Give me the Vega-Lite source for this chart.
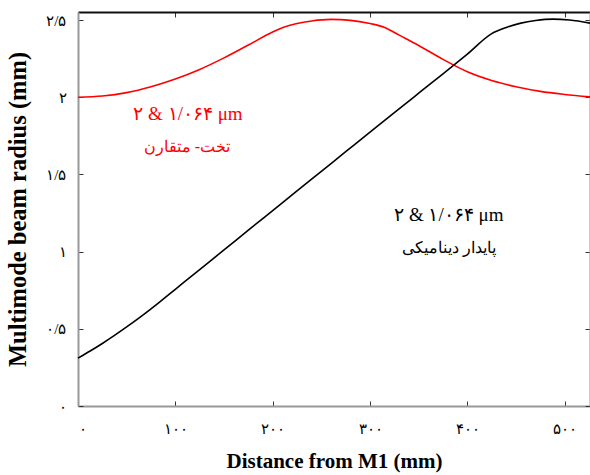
{
  "$schema": "https://vega.github.io/schema/vega-lite/v6.json",
  "width": 512,
  "height": 394,
  "autosize": {"type": "none"},
  "padding": {"left": 78, "top": 12, "right": 0, "bottom": 69},
  "background": "white",
  "config": {
    "font": "Liberation Serif",
    "view": {"stroke": null},
    "axis": {"grid": false, "labelFont": "Liberation Serif", "titleFont": "Liberation Serif"}
  },
  "datasets": {
    "beam": [
      {"distance": 0, "radius": 2.0, "cavity": "flat-symmetric"},
      {"distance": 25, "radius": 2.008, "cavity": "flat-symmetric"},
      {"distance": 50, "radius": 2.03, "cavity": "flat-symmetric"},
      {"distance": 75, "radius": 2.068, "cavity": "flat-symmetric"},
      {"distance": 100, "radius": 2.118, "cavity": "flat-symmetric"},
      {"distance": 125, "radius": 2.18, "cavity": "flat-symmetric"},
      {"distance": 150, "radius": 2.255, "cavity": "flat-symmetric"},
      {"distance": 175, "radius": 2.338, "cavity": "flat-symmetric"},
      {"distance": 200, "radius": 2.422, "cavity": "flat-symmetric"},
      {"distance": 212, "radius": 2.455, "cavity": "flat-symmetric"},
      {"distance": 225, "radius": 2.478, "cavity": "flat-symmetric"},
      {"distance": 240, "radius": 2.494, "cavity": "flat-symmetric"},
      {"distance": 260, "radius": 2.504, "cavity": "flat-symmetric"},
      {"distance": 280, "radius": 2.498, "cavity": "flat-symmetric"},
      {"distance": 300, "radius": 2.477, "cavity": "flat-symmetric"},
      {"distance": 315, "radius": 2.452, "cavity": "flat-symmetric"},
      {"distance": 330, "radius": 2.402, "cavity": "flat-symmetric"},
      {"distance": 350, "radius": 2.335, "cavity": "flat-symmetric"},
      {"distance": 375, "radius": 2.245, "cavity": "flat-symmetric"},
      {"distance": 400, "radius": 2.165, "cavity": "flat-symmetric"},
      {"distance": 425, "radius": 2.108, "cavity": "flat-symmetric"},
      {"distance": 450, "radius": 2.068, "cavity": "flat-symmetric"},
      {"distance": 475, "radius": 2.038, "cavity": "flat-symmetric"},
      {"distance": 500, "radius": 2.018, "cavity": "flat-symmetric"},
      {"distance": 526, "radius": 2.002, "cavity": "flat-symmetric"},
      {"distance": 0, "radius": 0.31, "cavity": "dynamically-stable"},
      {"distance": 12.5, "radius": 0.356, "cavity": "dynamically-stable"},
      {"distance": 25, "radius": 0.405, "cavity": "dynamically-stable"},
      {"distance": 37.5, "radius": 0.457, "cavity": "dynamically-stable"},
      {"distance": 50, "radius": 0.512, "cavity": "dynamically-stable"},
      {"distance": 62.5, "radius": 0.569, "cavity": "dynamically-stable"},
      {"distance": 75, "radius": 0.629, "cavity": "dynamically-stable"},
      {"distance": 87.5, "radius": 0.692, "cavity": "dynamically-stable"},
      {"distance": 100, "radius": 0.756, "cavity": "dynamically-stable"},
      {"distance": 125, "radius": 0.884, "cavity": "dynamically-stable"},
      {"distance": 150, "radius": 1.011, "cavity": "dynamically-stable"},
      {"distance": 175, "radius": 1.139, "cavity": "dynamically-stable"},
      {"distance": 200, "radius": 1.266, "cavity": "dynamically-stable"},
      {"distance": 225, "radius": 1.393, "cavity": "dynamically-stable"},
      {"distance": 250, "radius": 1.52, "cavity": "dynamically-stable"},
      {"distance": 275, "radius": 1.647, "cavity": "dynamically-stable"},
      {"distance": 300, "radius": 1.774, "cavity": "dynamically-stable"},
      {"distance": 325, "radius": 1.9, "cavity": "dynamically-stable"},
      {"distance": 350, "radius": 2.026, "cavity": "dynamically-stable"},
      {"distance": 375, "radius": 2.152, "cavity": "dynamically-stable"},
      {"distance": 400, "radius": 2.279, "cavity": "dynamically-stable"},
      {"distance": 425, "radius": 2.412, "cavity": "dynamically-stable"},
      {"distance": 440, "radius": 2.452, "cavity": "dynamically-stable"},
      {"distance": 455, "radius": 2.48, "cavity": "dynamically-stable"},
      {"distance": 470, "radius": 2.497, "cavity": "dynamically-stable"},
      {"distance": 488, "radius": 2.506, "cavity": "dynamically-stable"},
      {"distance": 505, "radius": 2.5, "cavity": "dynamically-stable"},
      {"distance": 526, "radius": 2.48, "cavity": "dynamically-stable"}
    ],
    "wavelengths": [
      {"distance": 113, "radius": 1.89, "cavity": "flat-symmetric", "note": "۲ & ۱/۰۶۴ μm"},
      {"distance": 381, "radius": 1.24, "cavity": "dynamically-stable", "note": "۲ & ۱/۰۶۴ μm"}
    ],
    "names": [
      {"distance": 112, "radius": 1.675, "cavity": "flat-symmetric", "note": "تخت- متقارن"},
      {"distance": 381, "radius": 1.026, "cavity": "dynamically-stable", "note": "پایدار دینامیکی"}
    ]
  },
  "layer": [
    {
      "data": {"name": "beam"},
      "transform": [{"filter": "datum.cavity == 'flat-symmetric'"}],
      "mark": {"type": "line", "color": "#ff0000", "strokeWidth": 1.6, "interpolate": "monotone"},
      "encoding": {
        "x": {
          "field": "distance", "type": "quantitative",
          "scale": {"domain": [0, 526], "nice": false, "zero": false},
          "axis": {
            "orient": "bottom", "values": [0, 100, 200, 300, 400, 500],
            "labelExpr": "datum.value == 0 ? '۰' : datum.value == 100 ? '۱۰۰' : datum.value == 200 ? '۲۰۰' : datum.value == 300 ? '۳۰۰' : datum.value == 400 ? '۴۰۰' : '۵۰۰'",
            "labelFontSize": 15, "labelColor": "#000", "labelPadding": 20,
            "domainColor": "#999", "domainWidth": 2,
            "tickColor": "#333", "tickSize": -5, "tickWidth": 1,
            "title": "Distance from M1 (mm)", "titleFontSize": 21, "titleFontWeight": "bold",
            "titleColor": "#000", "titlePadding": 14
          }
        },
        "y": {
          "field": "radius", "type": "quantitative",
          "scale": {"domain": [0, 2.552], "nice": false, "zero": false},
          "axis": {
            "orient": "left", "values": [0, 0.5, 1, 1.5, 2, 2.5],
            "labelExpr": "datum.value == 0 ? '۰' : datum.value == 0.5 ? '۰/۵' : datum.value == 1 ? '۱' : datum.value == 1.5 ? '۱/۵' : datum.value == 2 ? '۲' : '۲/۵'",
            "labelFontSize": 15, "labelColor": "#000", "labelPadding": 17,
            "domainColor": "#999", "domainWidth": 2,
            "tickColor": "#333", "tickSize": -5, "tickWidth": 1,
            "title": "Multimode beam radius (mm)", "titleFontSize": 24.5, "titleFontWeight": "bold",
            "titleColor": "#000", "titlePadding": 15
          }
        }
      }
    },
    {
      "data": {"name": "beam"},
      "transform": [{"filter": "datum.cavity == 'dynamically-stable'"}],
      "mark": {"type": "line", "color": "#000000", "strokeWidth": 1.6, "interpolate": "monotone"},
      "encoding": {
        "x": {
          "field": "distance", "type": "quantitative",
          "scale": {"domain": [0, 526], "nice": false, "zero": false},
          "axis": {
            "orient": "top", "values": [0, 100, 200, 300, 400, 500], "labels": false,
            "domainColor": "#111", "domainWidth": 2,
            "tickColor": "#333", "tickSize": -5, "tickWidth": 1, "title": null
          }
        },
        "y": {
          "field": "radius", "type": "quantitative",
          "scale": {"domain": [0, 2.552], "nice": false, "zero": false},
          "axis": {
            "orient": "right", "values": [0, 0.5, 1, 1.5, 2, 2.5], "labels": false,
            "domainColor": "#999", "domainWidth": 2,
            "tickColor": "#333", "tickSize": -5, "tickWidth": 1, "title": null
          }
        }
      }
    },
    {
      "data": {"name": "wavelengths"},
      "mark": {"type": "text", "fontSize": 19, "font": "Liberation Serif", "align": "center", "baseline": "middle"},
      "encoding": {
        "x": {"field": "distance", "type": "quantitative", "scale": {"domain": [0, 526], "nice": false, "zero": false}, "axis": null},
        "y": {"field": "radius", "type": "quantitative", "scale": {"domain": [0, 2.552], "nice": false, "zero": false}, "axis": null},
        "text": {"field": "note"},
        "color": {
          "field": "cavity", "type": "nominal",
          "scale": {"domain": ["flat-symmetric", "dynamically-stable"], "range": ["#ff0000", "#000000"]},
          "legend": null
        }
      }
    },
    {
      "data": {"name": "names"},
      "mark": {"type": "text", "fontSize": 16, "font": "Liberation Serif", "align": "center", "baseline": "middle"},
      "encoding": {
        "x": {"field": "distance", "type": "quantitative", "scale": {"domain": [0, 526], "nice": false, "zero": false}, "axis": null},
        "y": {"field": "radius", "type": "quantitative", "scale": {"domain": [0, 2.552], "nice": false, "zero": false}, "axis": null},
        "text": {"field": "note"},
        "color": {
          "field": "cavity", "type": "nominal",
          "scale": {"domain": ["flat-symmetric", "dynamically-stable"], "range": ["#ff0000", "#000000"]},
          "legend": null
        }
      }
    }
  ],
  "resolve": {"scale": {"x": "independent", "y": "independent"}}
}
